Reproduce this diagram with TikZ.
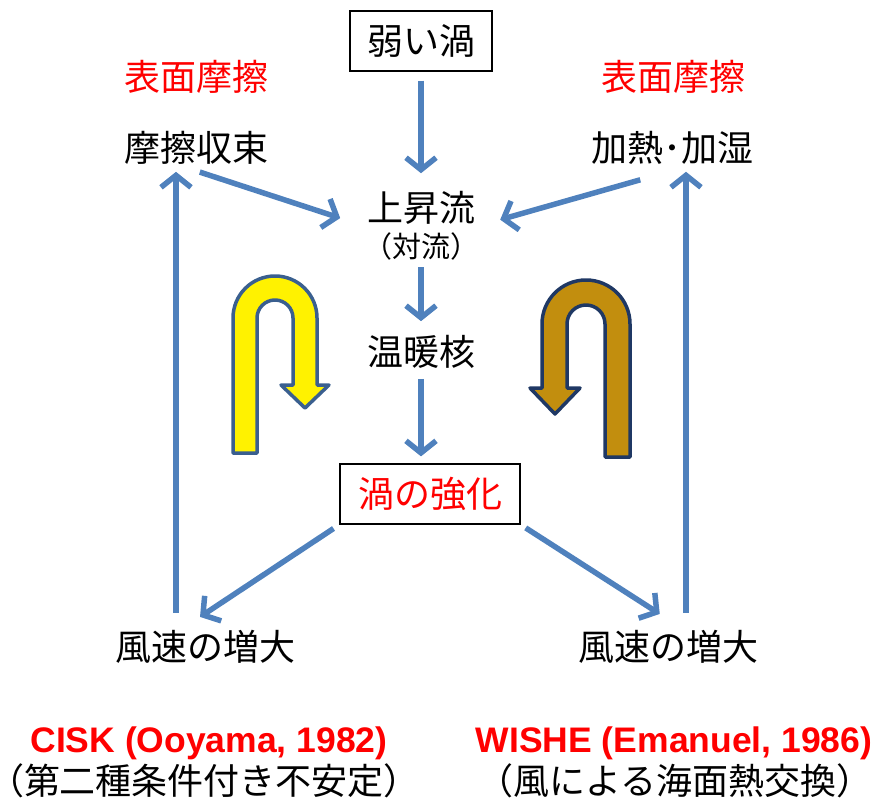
\documentclass[tikz,border=0pt]{standalone}
\usepackage{fontspec}
\newfontfamily\jp{Noto Sans CJK JP}
\newfontfamily\lat{Liberation Sans}
\usetikzlibrary{arrows.meta,calc}
\definecolor{arrblue}{HTML}{4F81BD}
\definecolor{ystroke}{HTML}{3A5F8F}
\definecolor{bstroke}{HTML}{1F3864}
\definecolor{bfill}{HTML}{C28E0E}
\definecolor{txtred}{HTML}{FF0000}
\begin{document}
\begin{tikzpicture}[x=1pt,y=-1pt,
  lbl/.style={font=\jp\fontsize{36}{40}\selectfont, inner sep=0pt},
  smalllbl/.style={font=\jp\fontsize{29}{32}\selectfont, inner sep=0pt},
  sublbl/.style={font=\jp\fontsize{36}{40}\selectfont, inner sep=0pt, text height=30pt, text depth=3pt, anchor=base},
  boxlbl/.style={lbl, draw=black, line width=1.3pt, minimum height=60pt},
  lattxt/.style={font=\lat\bfseries\fontsize{35.5}{40}\selectfont, text=txtred, inner sep=0pt, anchor=base},
  arr/.style={draw=arrblue, line width=5.5pt, -{Straight Barb[length=12pt,width=30pt]}},
  uarrow/.style={line width=3.5pt, line join=round}]
\useasboundingbox (0,0) rectangle (884,800);

% nodes
\node[boxlbl, minimum width=142pt] (weak) at (421,41) {弱い渦};
\node[lbl, text=txtred] (lsurf) at (196,77) {表面摩擦};
\node[lbl, text=txtred] (rsurf) at (673,77) {表面摩擦};
\node[lbl] (lconv) at (196,148) {摩擦収束};
\node[lbl] (rheat) at (672,148) {加熱･加湿};
\node[lbl] (jsr) at (421,208) {上昇流};
\node[smalllbl] (taiw) at (421,246) {（対流）};
\node[lbl] (onk) at (421,352) {温暖核};
\node[boxlbl, minimum width=180pt, text=txtred] (kyoka) at (430,494) {渦の強化};
\node[lbl] (lwind) at (205,647) {風速の増大};
\node[lbl] (rwind) at (668,647) {風速の増大};
\node[lattxt] (cisk) at (209,752) {CISK (Ooyama, 1982)};
\node[lattxt] (wishe) at (674,752) {WISHE (Emanuel, 1986)};
\node[sublbl] (lsub) at (204,794) {（第二種条件付き不安定）};
\node[sublbl] (rsub) at (675,794) {（風による海面熱交換）};

% connectors
\draw[arr, shorten <=9pt, shorten >=18pt] (weak.south) -- (jsr.north);
\draw[arr, shorten <=7pt, shorten >=14pt] (taiw.south) -- (onk.north);
\draw[arr, shorten <=10pt, shorten >=7pt] (onk.south) -- (onk.south |- kyoka.north);
\draw[arr, shorten <=4pt, shorten >=28pt] ([yshift=-6pt]lconv.south) -- ([yshift=-2pt]jsr.south west);
\draw[arr, shorten <=33pt, shorten >=26pt] ([yshift=-6pt]rheat.south) -- ([yshift=-2pt]jsr.south east);
\draw[arr, shorten <=7pt, shorten >=24pt] (kyoka.south west) -- ([xshift=-25pt]lwind.north);
\draw[arr, shorten <=6pt, shorten >=30pt] (kyoka.south east) -- ([xshift=17pt]rwind.north);
\draw[arr, shorten <=17pt, shorten >=7pt] ([xshift=-29pt]lwind.north) -- ([xshift=-20pt]lconv.south);
\draw[arr, shorten <=17pt, shorten >=7pt] ([xshift=18pt]rwind.north) -- ([xshift=14pt]rheat.south);

% U-turn arrows
\filldraw[uarrow, draw=ystroke, fill=yellow]
  (233,453) -- (233,318) arc[start angle=180, end angle=360, radius=42]
  -- (317,385) -- (329,385) -- (305,408) -- (281,385) -- (293,385)
  -- (293,318) arc[start angle=360, end angle=180, radius=18]
  -- (257,453) -- cycle;
\filldraw[uarrow, draw=bstroke, fill=bfill]
  (630,457) -- (630,324) arc[start angle=360, end angle=180, radius=44]
  -- (542,388) -- (530,388) -- (555,414) -- (580,388) -- (567,388)
  -- (567,324) arc[start angle=180, end angle=360, radius=19]
  -- (605,457) -- cycle;
\end{tikzpicture}
\end{document}
